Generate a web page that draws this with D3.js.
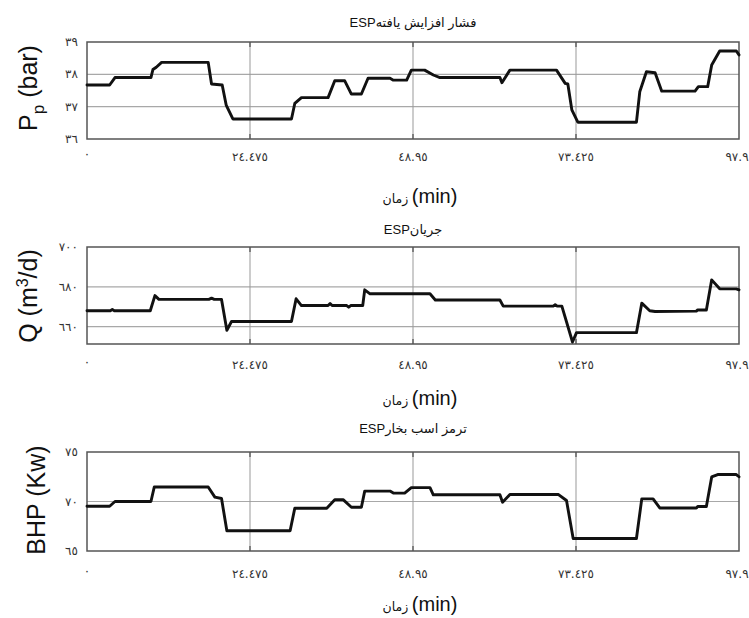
<!DOCTYPE html>
<html><head><meta charset="utf-8">
<script src="https://cdn.jsdelivr.net/npm/d3@7"></script>
<style>body{margin:0;background:#fff}svg{display:block}</style>
</head><body>
<svg id="c" width="749" height="618"></svg>
<script>
// ---- data ----
const tP = [0,3.4,4.2,9.6,9.9,10.4,11.2,18.2,18.7,20.3,20.9,21.9,30.7,31.2,32.2,36.2,37.2,38.7,39.7,41.2,42.2,45.5,46,48,48.7,50.7,52,53,62,62.3,63.5,70.5,71.8,72.2,72.8,73.7,82.5,83,84,85.3,86.3,91.3,91.8,93.2,93.8,95,97.5,97.9];
const vP = [37.67,37.67,37.9,37.9,38.15,38.22,38.37,38.37,37.7,37.67,37.05,36.62,36.62,37.1,37.28,37.28,37.8,37.8,37.39,37.39,37.88,37.88,37.82,37.82,38.13,38.13,37.98,37.9,37.9,37.74,38.13,38.13,37.72,37.7,36.9,36.52,36.52,37.46,38.08,38.05,37.48,37.48,37.62,37.62,38.29,38.72,38.72,38.6];

const tQ = [0,3.5,3.8,4.1,9.5,10.2,10.8,18.3,18.7,19.1,20.2,21.0,21.7,30.7,31.4,32.2,36.2,36.5,36.8,39,39.3,39.6,41.4,41.7,42.5,51.5,52.3,62,62.5,70,70.3,70.6,71.3,72.9,73.5,82.5,83.3,84.5,85.3,91.5,91.7,93,93.8,95,97.5,97.9];
const vQ = [668,668,668.6,668,668,675.6,673.7,673.7,674.3,673.7,673.7,658.2,662.6,662.6,674,670.6,670.6,671.6,670.6,670.6,669.8,670.6,670.6,678.5,676.5,676.5,673.4,673.4,670.3,670.3,671,670.3,670.3,652.3,657,657,671.8,668,667.6,667.8,668.4,668.4,683.5,679,679,678.5];

const tB = [0,3.4,4.2,9.6,10.1,18.2,19.2,20.2,21.0,30.5,31.2,36,37.2,38.5,39.7,41.2,41.7,45.5,46,47.7,48.7,51.5,52,62,62.4,63.5,70.8,72,73,82.5,83.3,85,86,91.5,91.7,93,93.8,94.7,97.5,97.9];
const vB = [69.52,69.52,70.0,70.0,71.46,71.46,70.44,70.3,67.04,67.04,69.32,69.32,70.17,70.17,69.42,69.42,71.05,71.05,70.85,70.85,71.4,71.4,70.68,70.68,69.93,70.7,70.7,70.1,66.26,66.26,70.27,70.27,69.35,69.35,69.5,69.5,72.48,72.72,72.72,72.5];

const xTicks = [0,24.475,48.95,73.425,97.9];
const xTickLabels = ["٠","٢٤.٤٧٥","٤٨.٩٥","٧٣.٤٢٥","٩٧.٩"];
const yTicksP = [36,37,38,39], yTickLabelsP = ["٣٦","٣٧","٣٨","٣٩"];
const yTicksQ = [660,680,700], yTickLabelsQ = ["٦٦٠","٦٨٠","٧٠٠"];
const yTicksB = [65,70,75], yTickLabelsB = ["٦٥","٧٠","٧٥"];
const titles = ["فشار افزایش یافتهESP","جریانESP","ترمز اسب بخارESP"];
const xTitleFa = "زمان", xTitleUnit = "(min)";

// ---- drawing ----
const svg = d3.select("#c");
const L = 87, R = 739;
const x = d3.scaleLinear().domain([0,97.9]).range([L,R]);

const panels = [
  {t:tP, v:vP, dom:[36,39], top:42, bot:139, ticks:yTicksP, labels:yTickLabelsP, title:titles[0], titleY:27, xtY:161, xTitleY:203,
   ylab:[{s:"P"},{s:"p",dy:7,fs:17},{s:" (bar)",dy:-7}], ylx:37, yly:88},
  {t:tQ, v:vQ, dom:[651.3,700], top:247, bot:344, ticks:yTicksQ, labels:yTickLabelsQ, title:titles[1], titleY:234, xtY:369, xTitleY:405,
   ylab:[{s:"Q (m"},{s:"3",dy:-9,fs:16},{s:"/d)",dy:9}], ylx:37, yly:296},
  {t:tB, v:vB, dom:[65,75], top:452, bot:551, ticks:yTicksB, labels:yTickLabelsB, title:titles[2], titleY:433, xtY:578, xTitleY:611,
   ylab:[{s:"BHP (Kw)"}], ylx:45, yly:500}
];

panels.forEach(p => {
  const y = d3.scaleLinear().domain(p.dom).range([p.bot,p.top]);
  const g = svg.append("g");
  g.selectAll(".hg").data(p.ticks.filter(d => y(d) > p.top+2 && y(d) < p.bot-2)).join("line")
    .attr("x1",L).attr("x2",R).attr("y1",d=>y(d)).attr("y2",d=>y(d))
    .attr("stroke","#a8a8a8").attr("stroke-width",1.2);
  g.selectAll(".vg").data(xTicks.slice(1,-1)).join("line")
    .attr("x1",d=>x(d)).attr("x2",d=>x(d)).attr("y1",p.top).attr("y2",p.bot)
    .attr("stroke","#999").attr("stroke-width",1);
  const tk = g.append("g").attr("stroke","#555").attr("stroke-width",1.3);
  xTicks.slice(1,-1).forEach(d => {
    tk.append("line").attr("x1",x(d)).attr("x2",x(d)).attr("y1",p.top).attr("y2",p.top+5);
    tk.append("line").attr("x1",x(d)).attr("x2",x(d)).attr("y1",p.bot).attr("y2",p.bot-5);
  });
  g.append("rect").attr("x",L).attr("y",p.top).attr("width",R-L).attr("height",p.bot-p.top)
    .attr("fill","none").attr("stroke","#555").attr("stroke-width",1.5);
  const data = p.t.map((t,i)=>[t,p.v[i]]);
  g.append("path").datum(data)
    .attr("d", d3.line().x(d=>x(d[0])).y(d=>y(d[1])))
    .attr("fill","none").attr("stroke","#111").attr("stroke-width",2.9)
    .attr("stroke-linejoin","round").attr("stroke-linecap","round");
  g.selectAll(".yl").data(p.ticks).join("text")
    .attr("x",78).attr("y",d=>y(d)+4).attr("text-anchor","end")
    .attr("font-family","DejaVu Sans, sans-serif").attr("font-size",12).attr("fill","#333")
    .text((d,i)=>p.labels[i]);
  g.selectAll(".xl").data(xTicks).join("text")
    .attr("x",(d,i)=> i===xTicks.length-1 ? x(d)-2 : x(d)).attr("y",(d,i)=> i===0 ? p.xtY-3 : p.xtY)
    .attr("text-anchor","middle")
    .attr("font-family","DejaVu Sans, sans-serif").attr("font-size",12).attr("fill","#333")
    .text((d,i)=>xTickLabels[i]);
  g.append("text").attr("x",413).attr("y",p.titleY).attr("text-anchor","middle")
    .attr("direction","rtl").style("direction","rtl").style("unicode-bidi","embed")
    .attr("font-family","Liberation Sans, DejaVu Sans, sans-serif").attr("font-size",13).attr("fill","#111")
    .text(p.title);
  const xt = g.append("text").attr("x",420).attr("y",p.xTitleY).attr("text-anchor","middle")
    .attr("font-family","Liberation Sans, DejaVu Sans, sans-serif").attr("fill","#111");
  xt.append("tspan").attr("font-size",12.5).text(xTitleFa + " ");
  xt.append("tspan").attr("font-size",20).text(xTitleUnit);
  const yl = g.append("text").attr("transform",`translate(${p.ylx},${p.yly}) rotate(-90)`)
    .attr("text-anchor","middle").attr("font-family","Liberation Sans, Arial, sans-serif")
    .attr("font-size",25).attr("fill","#111");
  p.ylab.forEach(s => {
    const ts = yl.append("tspan").text(s.s);
    if (s.dy) ts.attr("dy", s.dy);
    if (s.fs) ts.attr("font-size", s.fs);
  });
});
</script>
</body></html>
